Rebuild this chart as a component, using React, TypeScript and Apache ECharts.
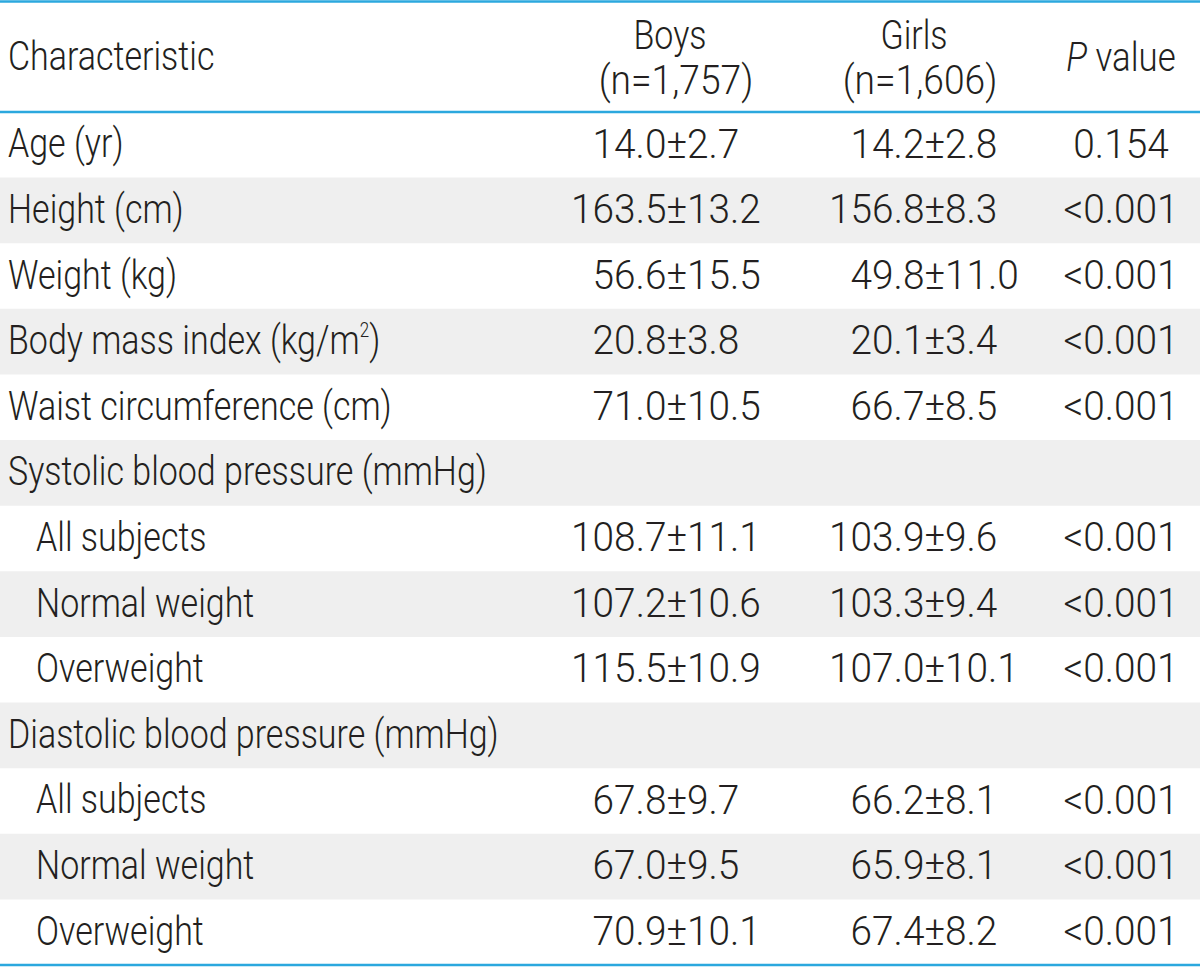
import React, { useEffect, useRef } from 'react';
import * as echarts from 'echarts';

const headerLabel = 'Characteristic';
const groupNames = ['Boys', 'Girls'];
const groupCounts = ['(n=1,757)', '(n=1,606)'];
const pHeader = '{it|P} value';

const characteristics = [
  'Age (yr)',
  'Height (cm)',
  'Weight (kg)',
  'Body mass index (kg/m{sup|2})',
  'Waist circumference (cm)',
  'Systolic blood pressure (mmHg)',
  'All subjects',
  'Normal weight',
  'Overweight',
  'Diastolic blood pressure (mmHg)',
  'All subjects',
  'Normal weight',
  'Overweight',
];
const indents = [0, 0, 0, 0, 0, 0, 1, 1, 1, 0, 1, 1, 1];
const boys = ['14.0±2.7', '163.5±13.2', '56.6±15.5', '20.8±3.8', '71.0±10.5', '', '108.7±11.1', '107.2±10.6', '115.5±10.9', '', '67.8±9.7', '67.0±9.5', '70.9±10.1'];
const girls = ['14.2±2.8', '156.8±8.3', '49.8±11.0', '20.1±3.4', '66.7±8.5', '', '103.9±9.6', '103.3±9.4', '107.0±10.1', '', '66.2±8.1', '65.9±8.1', '67.4±8.2'];
const pValues = ['0.154', '<0.001', '<0.001', '<0.001', '<0.001', '', '<0.001', '<0.001', '<0.001', '', '<0.001', '<0.001', '<0.001'];

const W = 1200;
const H = 967;
const FONT = 'Roboto, "Liberation Sans", Arial, sans-serif';
const WEIGHT = 300;
const TEXT = '#231f20';
const RULE = '#2ba8de';
const GREY = '#efefef';
const HEADER_BOTTOM = 112;
const TABLE_BOTTOM = 965;
const ROW_H = (TABLE_BOTTOM - HEADER_BOTTOM) / characteristics.length;
const LABEL_SCALE = 0.85;
const NUM_SCALE = 0.97;
const FS = 40;
// x of the right edge of the ± sign, where each value column is aligned
const SPLIT_BOYS = 687;
const SPLIT_GIRLS = 945;
const COL_P = 1121;

function txt(text: string, x: number, y: number, align: string, scale: number, rich?: any) {
  return {
    type: 'text',
    x,
    y,
    scaleX: scale,
    style: {
      text,
      fill: TEXT,
      fontSize: FS,
      fontWeight: WEIGHT,
      fontFamily: FONT,
      lineHeight: 40,
      align,
      verticalAlign: 'middle',
      rich,
    },
  };
}

function pmValue(value: string, split: number, y: number) {
  const k = value.indexOf('±');
  return [
    txt(value.slice(0, k + 1), split, y, 'right', NUM_SCALE),
    txt(value.slice(k + 1), split, y, 'left', NUM_SCALE),
  ];
}

export default function App() {
  const ref = useRef<HTMLDivElement>(null);
  useEffect(() => {
    document.body.style.margin = '0';
    const chart = echarts.init(ref.current!, null, { renderer: 'svg' });
    const elements: any[] = [];
    characteristics.forEach((_, i) => {
      if (i % 2 === 1) {
        elements.push({
          type: 'rect',
          shape: { x: 0, y: HEADER_BOTTOM + i * ROW_H, width: W, height: ROW_H },
          style: { fill: GREY },
        });
      }
    });
    [1.5, HEADER_BOTTOM, TABLE_BOTTOM].forEach((y) => {
      elements.push({
        type: 'line',
        shape: { x1: 0, y1: y, x2: W, y2: y },
        style: { stroke: RULE, lineWidth: 2.5 },
      });
    });
    // header
    elements.push(txt(headerLabel, 8, 57, 'left', LABEL_SCALE));
    [[670, 676], [914, 920]].forEach(([cx1, cx2], k) => {
      elements.push(txt(groupNames[k], cx1, 36, 'center', LABEL_SCALE));
      elements.push(txt(groupCounts[k], cx2, 80, 'center', 0.93));
    });
    elements.push(
      txt(pHeader, COL_P, 57, 'center', 0.87, {
        it: { fontStyle: 'italic', fontSize: FS, fontWeight: WEIGHT, fontFamily: FONT, fill: TEXT, lineHeight: 40 },
      })
    );
    characteristics.forEach((label, i) => {
      const cy = HEADER_BOTTOM + i * ROW_H + ROW_H / 2 - 1;
      elements.push(
        txt(label, indents[i] ? 36 : 8, cy, 'left', LABEL_SCALE, {
          sup: { fontSize: 20, fontWeight: WEIGHT, fontFamily: FONT, fill: TEXT, lineHeight: 20, verticalAlign: 'top' },
        })
      );
      if (boys[i]) elements.push(...pmValue(boys[i], SPLIT_BOYS, cy));
      if (girls[i]) elements.push(...pmValue(girls[i], SPLIT_GIRLS, cy));
      if (pValues[i]) elements.push(txt(pValues[i], COL_P, cy, 'center', NUM_SCALE));
    });
    chart.setOption({ animation: false, graphic: { elements } });
    return () => chart.dispose();
  }, []);
  return <div ref={ref} style={{ width: W, height: H }} />;
}
